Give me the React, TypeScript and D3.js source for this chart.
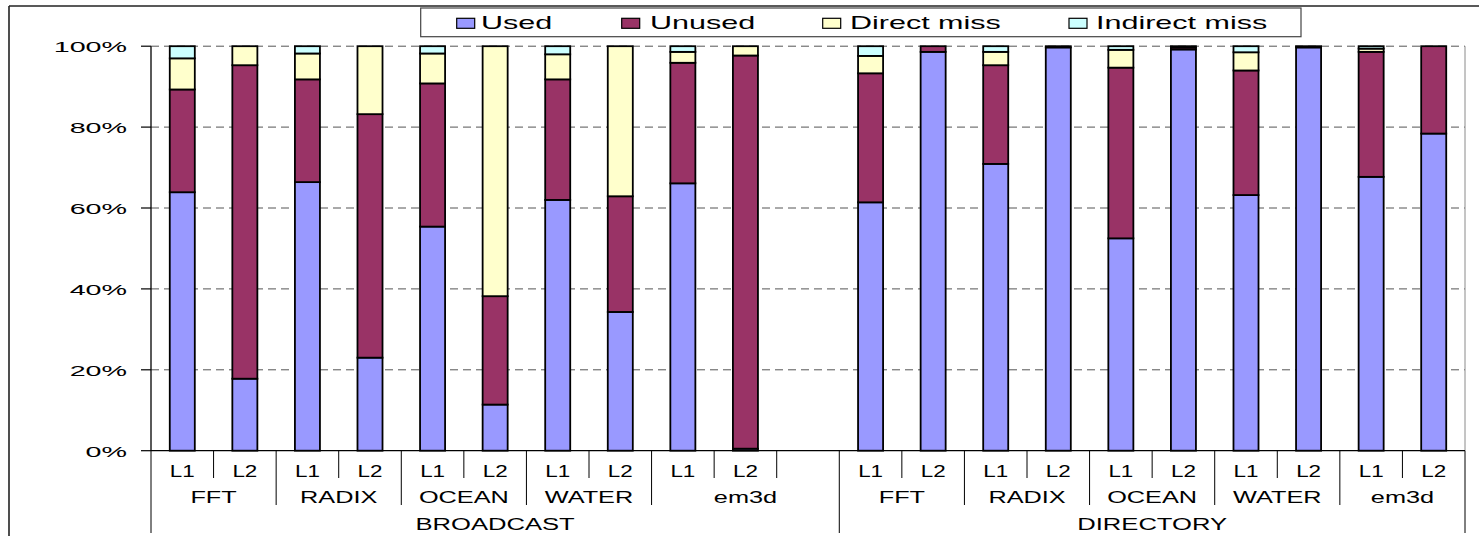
import React from "react";
import * as d3 from "d3";

// Category hierarchy: protocol > benchmark > cache level (one blank slot separates the protocols)
const section = [
  "BROADCAST", "BROADCAST", "BROADCAST", "BROADCAST", "BROADCAST", "BROADCAST",
  "BROADCAST", "BROADCAST", "BROADCAST", "BROADCAST", "BROADCAST",
  "DIRECTORY", "DIRECTORY", "DIRECTORY", "DIRECTORY", "DIRECTORY",
  "DIRECTORY", "DIRECTORY", "DIRECTORY", "DIRECTORY", "DIRECTORY",
];
const benchmark = [
  "FFT", "FFT", "RADIX", "RADIX", "OCEAN", "OCEAN", "WATER", "WATER", "em3d", "em3d", "em3d",
  "FFT", "FFT", "RADIX", "RADIX", "OCEAN", "OCEAN", "WATER", "WATER", "em3d", "em3d",
];
const level = [
  "L1", "L2", "L1", "L2", "L1", "L2", "L1", "L2", "L1", "L2", "",
  "L1", "L2", "L1", "L2", "L1", "L2", "L1", "L2", "L1", "L2",
];

// Percent of prefetched lines in each outcome
const used = [
  63.9, 17.8, 66.4, 23.0, 55.4, 11.4, 62.0, 34.3, 66.1, 0.5, 0,
  61.4, 98.6, 70.9, 99.7, 52.5, 99.2, 63.2, 99.7, 67.7, 78.4,
];
const unused = [
  25.4, 77.5, 25.4, 60.2, 35.4, 26.8, 29.8, 28.6, 29.8, 97.2, 0,
  31.9, 1.4, 24.4, 0.3, 42.2, 0.5, 30.8, 0.3, 30.9, 21.6,
];
const directMiss = [
  7.7, 4.7, 6.4, 16.8, 7.4, 61.8, 6.2, 37.1, 2.7, 2.3, 0,
  4.3, 0, 3.3, 0, 4.4, 0.3, 4.5, 0, 0.8, 0,
];
const indirectMiss = [
  3.0, 0, 1.8, 0, 1.8, 0, 2.0, 0, 1.4, 0, 0,
  2.4, 0, 1.4, 0, 0.9, 0, 1.5, 0, 0.6, 0,
];

const seriesNames = ["Used", "Unused", "Direct miss", "Indirect miss"];
const seriesColors = ["#9999FF", "#993366", "#FFFFCC", "#CCFFFF"];
const yTicks = [0, 0.2, 0.4, 0.6, 0.8, 1];

const W = 1479;
const H = 536;
const FONT = "'Liberation Sans', Arial, Helvetica, sans-serif";
const margin = { left: 151, right: 1465, top: 46.2, bottom: 450.7 };

type Row = { i: number; used: number; unused: number; direct: number; indirect: number };

const rows: Row[] = used.map((_, i) => ({
  i,
  used: used[i] / 100,
  unused: unused[i] / 100,
  direct: directMiss[i] / 100,
  indirect: indirectMiss[i] / 100,
}));

const keys = ["used", "unused", "direct", "indirect"] as const;

function SText(props: {
  x: number;
  y: number;
  sx: number;
  size: number;
  anchor?: "start" | "middle" | "end";
  children: React.ReactNode;
}) {
  return (
    <text
      transform={`translate(${props.x},${props.y}) scale(${props.sx},1)`}
      textAnchor={props.anchor ?? "middle"}
      fontSize={props.size}
      fontFamily={FONT}
      fill="#000"
    >
      {props.children}
    </text>
  );
}

function runs(labels: string[], parent?: string[]) {
  const out: { label: string; start: number; end: number }[] = [];
  labels.forEach((l, i) => {
    const last = out[out.length - 1];
    if (last && last.label === l && (!parent || parent[i] === parent[last.start])) {
      last.end = i + 1;
    } else {
      out.push({ label: l, start: i, end: i + 1 });
    }
  });
  return out;
}

export default function App() {
  const n = level.length;
  const x = d3
    .scaleBand<number>()
    .domain(d3.range(n))
    .range([margin.left, margin.right])
    .paddingInner(0.6)
    .paddingOuter(0.3);
  const step = x.step();
  const edge = (i: number) => margin.left + i * step;

  const y = d3.scaleLinear().domain([0, 1]).range([margin.bottom, margin.top]);
  const fmt = d3.format(".0%");

  const stack = d3.stack<Row>().keys(keys as unknown as string[]);
  const layers = stack(rows);

  // separator lines under the category axis
  const seps = d3.range(n + 1).map((i) => {
    let y2 = 478;
    if (i === 0 || i === n || section[i] !== section[i - 1]) y2 = 533;
    else if (benchmark[i] !== benchmark[i - 1]) y2 = 505;
    return { x: edge(i), y2 };
  });

  const benchRuns = runs(benchmark, section);
  const sectionRuns = runs(section);

  const legendItems = [
    { swatch: 456.7, text: 481 },
    { swatch: 621.7, text: 650 },
    { swatch: 822.7, text: 850 },
    { swatch: 1069, text: 1096 },
  ];

  return (
    <svg
      width={W}
      height={H}
      viewBox={`0 0 ${W} ${H}`}
      style={{ position: "absolute", left: 0, top: 0, display: "block", background: "#fff" }}
    >
      {/* chart frame */}
      <line x1={9} y1={6} x2={W} y2={6} stroke="#222" strokeWidth={1.6} />
      <line x1={9} y1={6} x2={9} y2={H} stroke="#222" strokeWidth={1.6} />

      {/* gridlines */}
      {yTicks
        .filter((t) => t > 0)
        .map((t) => (
          <line
            key={t}
            x1={margin.left}
            x2={margin.right}
            y1={y(t)}
            y2={y(t)}
            stroke="#555"
            strokeWidth={1}
            strokeDasharray="8,5"
          />
        ))}
      <line
        x1={margin.right}
        x2={margin.right}
        y1={margin.top}
        y2={margin.bottom}
        stroke="#8a8a8a"
        strokeWidth={1}
      />

      {/* stacked bars */}
      {layers.map((layer, k) => (
        <g key={k} fill={seriesColors[k]} stroke="#000" strokeWidth={1.8}>
          {layer.map((d, i) =>
            d[1] - d[0] > 0 ? (
              <rect
                key={i}
                x={x(i)}
                width={x.bandwidth()}
                y={y(d[1])}
                height={y(d[0]) - y(d[1])}
              />
            ) : null
          )}
        </g>
      ))}

      {/* value axis */}
      <line x1={margin.left} x2={margin.left} y1={margin.top} y2={margin.bottom} stroke="#000" strokeWidth={1.3} />
      {yTicks.map((t) => (
        <g key={t}>
          <line x1={141} x2={margin.left} y1={y(t)} y2={y(t)} stroke="#000" strokeWidth={1.2} />
          <SText x={127} y={y(t) + 6} sx={1.85} size={15.5} anchor="end">
            {fmt(t)}
          </SText>
        </g>
      ))}

      {/* category axis */}
      <line x1={margin.left} x2={margin.right} y1={margin.bottom} y2={margin.bottom} stroke="#000" strokeWidth={1.3} />
      {seps.map((s, i) => (
        <line key={i} x1={s.x} x2={s.x} y1={margin.bottom} y2={s.y2} stroke="#000" strokeWidth={1} />
      ))}
      {level.map((l, i) =>
        l ? (
          <SText key={i} x={(x(i) ?? 0) + x.bandwidth() / 2} y={476.8} sx={1.4} size={16}>
            {l}
          </SText>
        ) : null
      )}
      {benchRuns.map((r, i) => (
        <SText key={i} x={(edge(r.start) + edge(r.end)) / 2} y={502.8} sx={1.58} size={16}>
          {r.label}
        </SText>
      ))}
      {sectionRuns.map((r, i) => (
        <SText key={i} x={(edge(r.start) + edge(r.end)) / 2} y={529.5} sx={1.6} size={16}>
          {r.label}
        </SText>
      ))}

      {/* legend */}
      <rect x={420.7} y={8} width={880.3} height={28.7} fill="#fff" stroke="#444" strokeWidth={1.2} />
      {seriesNames.map((name, k) => (
        <g key={name}>
          <rect
            x={legendItems[k].swatch}
            y={18.3}
            width={18}
            height={10}
            fill={seriesColors[k]}
            stroke="#000"
            strokeWidth={1.2}
          />
          <SText x={legendItems[k].text} y={29.3} sx={1.65} size={18.5} anchor="start">
            {name}
          </SText>
        </g>
      ))}
    </svg>
  );
}
